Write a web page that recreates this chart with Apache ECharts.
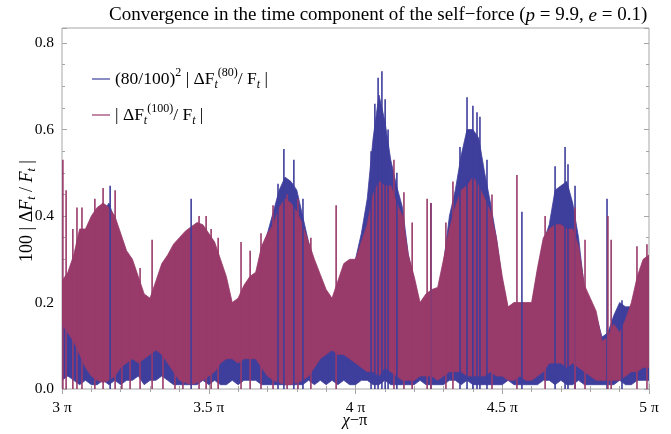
<!DOCTYPE html>
<html><head><meta charset="utf-8">
<script src="https://cdn.jsdelivr.net/npm/echarts@6/dist/echarts.min.js"></script>
<style>html,body{margin:0;padding:0;background:#fff}#c{width:671px;height:434px}</style>
</head><body><div id="c"></div>
<script>
// sampling grid (in units of pi) at which the envelopes were read
const xStart = 3, xStep = 0.02;
const xTicks = [3, 3.5, 4, 4.5, 5];
const yTicks = [0, 0.2, 0.4, 0.6, 0.8];

// |dF^(100)/F| : upper and lower edge of the oscillation band
const magentaHi = [0.25,0.27,0.31,0.37,0.37,0.40,0.42,0.43,0.42,0.40,
0.36,0.32,0.30,0.26,0.22,0.21,0.25,0.29,0.31,0.335,
0.35,0.365,0.375,0.385,0.38,0.36,0.34,0.30,0.26,0.20,
0.21,0.24,0.26,0.27,0.33,0.36,0.38,0.42,0.44,0.43,
0.41,0.38,0.34,0.30,0.265,0.23,0.21,0.25,0.29,0.30,
0.30,0.34,0.38,0.45,0.48,0.47,0.47,0.43,0.40,0.31,
0.26,0.20,0.22,0.23,0.235,0.30,0.37,0.42,0.46,0.47,
0.49,0.47,0.44,0.41,0.35,0.26,0.19,0.20,0.20,0.20,
0.20,0.28,0.35,0.37,0.38,0.38,0.37,0.37,0.33,0.24,
0.21,0.18,0.11,0.12,0.15,0.13,0.16,0.20,0.26,0.30,0.31];
const magentaLo = [0.15,0.13,0.11,0.08,0.05,0.03,0.02,0.015,0.02,0.03,
0.05,0.06,0.07,0.06,0.07,0.08,0.09,0.08,0.06,0.04,
0.02,0.015,0.01,0.015,0.02,0.03,0.04,0.06,0.07,0.07,
0.06,0.07,0.07,0.07,0.05,0.03,0.02,0.015,0.01,0.01,
0.015,0.02,0.03,0.05,0.07,0.08,0.09,0.08,0.08,0.07,
0.06,0.05,0.04,0.04,0.03,0.05,0.04,0.03,0.02,0.02,
0.02,0.03,0.03,0.03,0.02,0.03,0.04,0.04,0.04,0.03,
0.03,0.03,0.03,0.04,0.03,0.03,0.02,0.02,0.03,0.02,
0.02,0.03,0.04,0.06,0.06,0.06,0.05,0.06,0.05,0.04,
0.03,0.02,0.02,0.02,0.02,0.02,0.03,0.04,0.04,0.05,0.05];
// (80/100)^2 |dF^(80)/F| : upper and lower edge of the oscillation band
const blueHi = [0.22,0.24,0.28,0.33,0.34,0.37,0.39,0.41,0.43,0.39,
0.33,0.30,0.28,0.24,0.20,0.19,0.23,0.27,0.29,0.32,
0.33,0.35,0.37,0.37,0.36,0.34,0.32,0.28,0.24,0.19,
0.20,0.22,0.24,0.26,0.31,0.36,0.41,0.46,0.49,0.48,
0.46,0.40,0.34,0.29,0.25,0.22,0.20,0.23,0.27,0.29,
0.30,0.36,0.44,0.58,0.68,0.62,0.53,0.47,0.42,0.31,
0.25,0.19,0.21,0.22,0.22,0.29,0.40,0.46,0.54,0.60,
0.60,0.58,0.50,0.43,0.35,0.25,0.18,0.19,0.19,0.19,
0.19,0.27,0.34,0.38,0.46,0.47,0.48,0.43,0.35,0.23,
0.20,0.17,0.12,0.13,0.17,0.20,0.19,0.19,0.25,0.29,0.30];
const blueLo = [0.02,0.03,0.02,0.01,0.02,0.01,0.01,0.02,0.01,0.02,
0.01,0.02,0.02,0.03,0.01,0.02,0.02,0.03,0.02,0.01,
0.01,0.01,0.01,0.01,0.02,0.01,0.02,0.01,0.01,0.02,
0.01,0.02,0.02,0.02,0.01,0.01,0.01,0.01,0.01,0.01,
0.01,0.01,0.02,0.01,0.02,0.01,0.02,0.01,0.02,0.01,
0.01,0.02,0.02,0.01,0.01,0.02,0.01,0.01,0.01,0.01,
0.01,0.02,0.01,0.01,0.01,0.01,0.02,0.02,0.01,0.02,
0.01,0.01,0.01,0.01,0.01,0.01,0.02,0.01,0.01,0.01,
0.01,0.01,0.02,0.02,0.01,0.02,0.01,0.01,0.02,0.01,
0.01,0.01,0.01,0.01,0.01,0.02,0.01,0.01,0.02,0.02,0.02];
// thin isolated spikes [x (units of pi), value]
const magentaSpikes = [[3.003,0.53],[3.014,0.46],[3.037,0.37],[3.051,0.42],[3.068,0.42],[3.112,0.44],
[3.140,0.465],[3.181,0.46],[3.204,0.34],[3.232,0.30],[3.266,0.28],[3.307,0.345],[3.344,0.29],
[3.385,0.33],[3.412,0.355],[3.467,0.40],[3.491,0.40],[3.508,0.37],[3.532,0.35],[3.610,0.34],
[3.641,0.32],[3.678,0.36],[3.719,0.425],[3.767,0.45],[3.804,0.44],[3.848,0.35],[3.934,0.425],
[4.131,0.53],[4.165,0.455],[4.193,0.385],[4.244,0.44],[4.257,0.43],[4.308,0.385],[4.332,0.48],
[4.465,0.45],[4.550,0.495],[4.646,0.40],[4.748,0.42],[4.782,0.345],[4.860,0.40],[4.871,0.345],
[4.959,0.33],[4.993,0.335]];
const blueSpikes = [[3.164,0.47],[3.440,0.44],[3.736,0.475],[3.756,0.555],[3.790,0.53],[3.821,0.44],
[4.053,0.55],[4.066,0.66],[4.077,0.72],[4.090,0.735],[4.101,0.67],[4.111,0.60],[4.141,0.50],
[4.257,0.43],[4.356,0.56],[4.380,0.675],[4.400,0.655],[4.414,0.64],[4.424,0.63],[4.448,0.53],
[4.567,0.41],[4.680,0.515],[4.714,0.56],[4.724,0.52],[4.748,0.47],[4.857,0.44],[4.908,0.205]];

const BLUE = '#3e3e9c', MAG = '#983a6a';
const SERIF = "'Liberation Serif','DejaVu Serif',serif";
const xs = magentaHi.map((_, i) => +(xStart + i * xStep).toFixed(4));

function bandSeries(name, hi, lo, color) {
  const rows = hi.map((v, i) => [xs[i], v, lo[i]]);
  return {
    name: name, type: 'custom', coordinateSystem: 'cartesian2d', clip: true,
    color: color, itemStyle: {color: color},
    encode: {x: 0, y: [1, 2]}, data: rows,
    renderItem: function (params, api) {
      if (params.dataIndex !== 0) return null;
      const pts = [];
      for (let j = 0; j < rows.length; j++) pts.push(api.coord([rows[j][0], rows[j][1]]));
      for (let j = rows.length - 1; j >= 0; j--) pts.push(api.coord([rows[j][0], rows[j][2]]));
      return {type: 'polygon', shape: {points: pts},
        style: {fill: color, stroke: color, lineWidth: 0.8}};
    }
  };
}

const chart = echarts.init(document.getElementById('c'));
const frameColor = '#a6a6a6';
const tickCommon = {inside: true, length: 5, lineStyle: {color: frameColor}};
const minorCommon = {show: true, splitNumber: 5, length: 3, lineStyle: {color: frameColor}};
chart.setOption({
  animation: false,
  title: {
    text: 'Convergence in the time component of the self\u2212force ({i|p} = 9.9, {i|e} = 0.1)',
    left: 104, top: 1,
    textStyle: {fontFamily: SERIF, fontSize: 19, fontWeight: 'normal', color: '#000',
      rich: {i: {fontFamily: SERIF, fontSize: 19, fontStyle: 'italic', color: '#000'}}}
  },
  graphic: [
    {type: 'text', x: 355, y: 421, silent: true,
      style: {text: '{i|\u03c7}\u2212\u03c0', align: 'center', verticalAlign: 'middle',
        fontFamily: SERIF, fontSize: 16.5, fill: '#000',
        rich: {i: {fontFamily: SERIF, fontSize: 16.5, fontStyle: 'italic', fill: '#000'}}}},
    {type: 'text', x: 27, y: 211, rotation: Math.PI / 2, silent: true,
      style: {text: '100 | \u0394{i|F}{s|t} / {i|F}{s|t} |', align: 'center', verticalAlign: 'middle',
        fontFamily: SERIF, fontSize: 18, fill: '#000', lineHeight: 22,
        rich: {
          i: {fontFamily: SERIF, fontSize: 18, fontStyle: 'italic', fill: '#000', lineHeight: 22},
          s: {fontFamily: SERIF, fontSize: 12, fontStyle: 'italic', fill: '#000', verticalAlign: 'bottom', lineHeight: 15}
        }}}
  ],
  legend: {
    data: ['b80', 'm100'], orient: 'vertical', left: 87, top: 62, itemGap: 12,
    icon: 'rect', itemWidth: 18, itemHeight: 1.2,
    formatter: function (n) {
      return n === 'b80'
        ? '(80/100){sp|2} | \u0394F{sb|t}{sp|(80)}/ F{sb|t} |'
        : '| \u0394F{sb|t}{sp|(100)}/ F{sb|t} |';
    },
    textStyle: {fontFamily: SERIF, fontSize: 17.5, color: '#000', lineHeight: 24,
      rich: {
        sp: {fontFamily: SERIF, fontSize: 12, verticalAlign: 'top', lineHeight: 13, color: '#000'},
        sb: {fontFamily: SERIF, fontSize: 12, fontStyle: 'italic', verticalAlign: 'bottom', lineHeight: 14, color: '#000'}
      }}
  },
  grid: {left: 62, right: 22, top: 28, bottom: 45, show: true, borderColor: frameColor, borderWidth: 1,
    containLabel: false, outerBoundsMode: 'none'},
  xAxis: [{
    type: 'value', min: xTicks[0], max: xTicks[xTicks.length - 1], interval: 0.5,
    axisLine: {show: false}, splitLine: {show: false},
    axisTick: tickCommon, minorTick: minorCommon,
    axisLabel: {fontFamily: SERIF, fontSize: 15.5, color: '#000', margin: 11,
      formatter: v => v + ' \u03c0'}
  }, {
    type: 'value', position: 'top', min: 3, max: 5, interval: 0.5,
    axisLine: {show: false}, splitLine: {show: false}, axisLabel: {show: false},
    axisTick: tickCommon, minorTick: minorCommon
  }],
  yAxis: [{
    type: 'value', min: yTicks[0], max: 0.835, interval: 0.2,
    axisLine: {show: false}, splitLine: {show: false},
    axisTick: tickCommon, minorTick: Object.assign({}, minorCommon, {splitNumber: 4}),
    axisLabel: {fontFamily: SERIF, fontSize: 15.5, color: '#000', margin: 8, showMaxLabel: false,
      formatter: v => yTicks.some(t => Math.abs(t - v) < 1e-6) ? v.toFixed(1) : ''}
  }, {
    type: 'value', position: 'right', min: 0, max: 0.835, interval: 0.2,
    axisLine: {show: false}, splitLine: {show: false}, axisLabel: {show: false},
    axisTick: tickCommon, minorTick: Object.assign({}, minorCommon, {splitNumber: 4})
  }],
  series: [
    bandSeries('b80', blueHi, blueLo, BLUE),
    {name: 'bspk', type: 'bar', data: blueSpikes, barWidth: 1.6, barGap: '-100%', color: BLUE,
      itemStyle: {color: BLUE}},
    bandSeries('m100', magentaHi, magentaLo, MAG),
    {name: 'mspk', type: 'bar', data: magentaSpikes, barWidth: 1.6, barGap: '-100%', color: MAG,
      itemStyle: {color: MAG}}
  ]
});
</script></body></html>
